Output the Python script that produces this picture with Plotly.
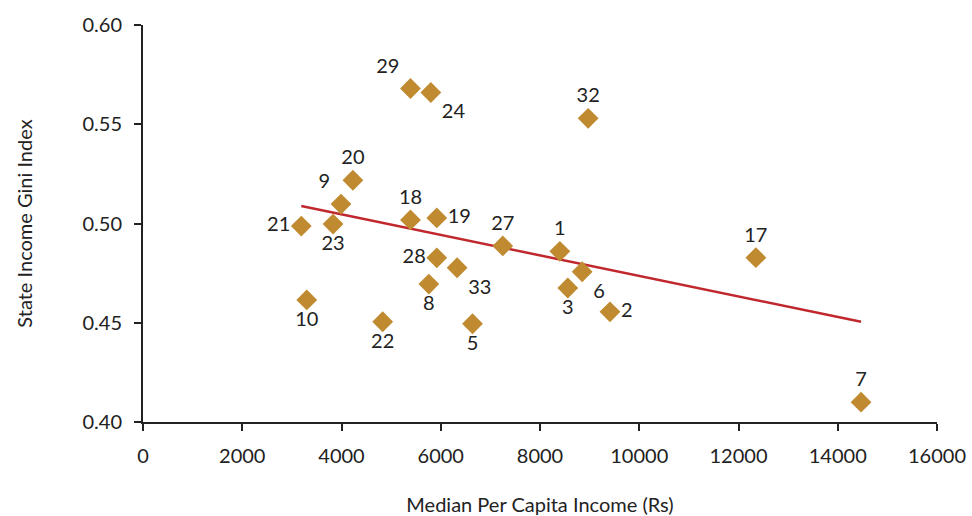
import plotly.graph_objects as go

state_ids = ["29", "24", "32", "20", "9", "21", "23", "18", "19", "27", "1", "6",
             "3", "2", "28", "33", "8", "10", "22", "5", "17", "7"]
median_income = [5390, 5800, 8970, 4230, 3990, 3190, 3830, 5390, 5920, 7250, 8400, 8850,
                 8560, 9410, 5920, 6330, 5760, 3300, 4830, 6640, 12350, 14470]
gini_index = [0.5680, 0.5660, 0.5530, 0.5218, 0.5098, 0.4987, 0.4997, 0.5018, 0.5028, 0.4887,
              0.4860, 0.4757, 0.4675, 0.4555, 0.4827, 0.4777, 0.4695, 0.4615, 0.4505, 0.4495,
              0.4828, 0.4100]
label_pos = ["top left", "bottom right", "top center", "top center", "top left", "middle left",
             "bottom center", "top center", "middle right", "top center", "top center",
             "bottom right", "bottom center", "middle right", "middle left", "bottom right",
             "bottom center", "bottom center", "bottom center", "bottom center", "top center",
             "top center"]

trend_x = [3190, 14470]
trend_y = [0.5088, 0.4505]

x_ticks = [0, 2000, 4000, 6000, 8000, 10000, 12000, 14000, 16000]
y_ticks = [0.40, 0.45, 0.50, 0.55, 0.60]

FONT = "Lato, Open Sans, sans-serif"

fig = go.Figure()
fig.add_trace(go.Scatter(
    x=trend_x, y=trend_y, mode="lines",
    line=dict(color="#C0282E", width=2.5), hoverinfo="skip", showlegend=False))
fig.add_trace(go.Scatter(
    x=median_income, y=gini_index, mode="markers+text",
    text=state_ids, textposition=label_pos,
    textfont=dict(family=FONT, size=20, color="#222222"),
    marker=dict(symbol="diamond", size=16, color="#BF8A30", line=dict(width=0)),
    showlegend=False))

axis_common = dict(
    showgrid=False, zeroline=False, showline=True, linecolor="#222222", linewidth=2,
    ticks="outside", ticklen=7, tickwidth=2, tickcolor="#222222",
    tickfont=dict(family=FONT, size=20, color="#222222"),
    automargin=False,
)

fig.update_layout(
    width=972, height=516,
    margin=dict(l=143, r=35, t=25, b=94),
    paper_bgcolor="white", plot_bgcolor="white",
    font=dict(family=FONT, color="#222222"),
    xaxis=dict(range=[0, 16000], tickvals=x_ticks, ticktext=[str(v) for v in x_ticks],
               ticklabelstandoff=8,
               title=dict(text="Median Per Capita Income (Rs)", font=dict(size=20), standoff=33),
               **axis_common),
    yaxis=dict(range=[0.40, 0.60], tickvals=y_ticks, ticktext=[f"{v:.2f}" for v in y_ticks],
               ticklabelstandoff=8,
               title=dict(text="State Income Gini Index", font=dict(size=20), standoff=44),
               **axis_common),
)

fig.write_html("out.html")
